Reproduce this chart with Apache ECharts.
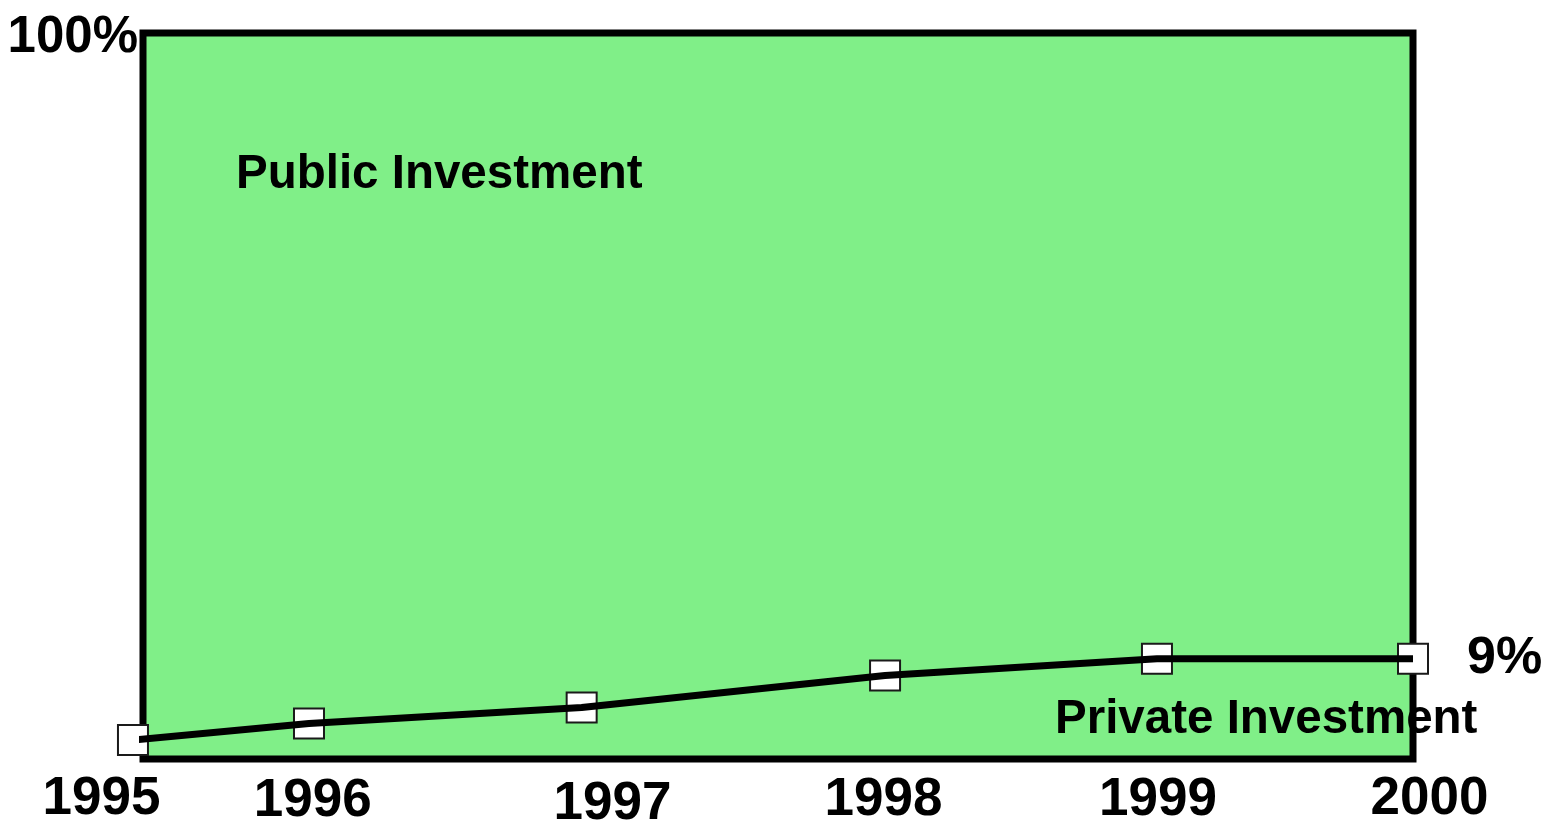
<!DOCTYPE html>
<html>
<head>
<meta charset="utf-8">
<script src="https://cdn.jsdelivr.net/npm/echarts@6/dist/echarts.min.js"></script>
<style>
  html, body { margin: 0; padding: 0; background: #fff; }
  #chart { width: 1549px; height: 828px; }
</style>
</head>
<body>
<div id="chart"></div>
<script>
// ---- data ----
const years = ['1995', '1996', '1997', '1998', '1999', '2000'];
// horizontal position of each point, % of plot width (as drawn)
const pointPos = [-0.79, 13.07, 34.54, 58.43, 79.84, 100];
// private investment share, % of plot height (as drawn)
const privateShare = [2.6, 4.9, 7.1, 11.5, 13.8, 13.8];
// horizontal position of each year label, % of plot width
const yearLabelPos = [-3.27, 13.36, 36.97, 58.31, 79.92, 101.3];
const yearLabelLevel = [-5.5, -5.9, -6.2, -5.75, -5.75, -5.5];
const yTickLabels = { 100: '100%' };
const endLabelText = '9%';
const publicLabel = 'Public Investment';
const privateLabel = 'Private Investment';

const FONT = "'Liberation Sans', Arial, Helvetica, sans-serif";
const chart = echarts.init(document.getElementById('chart'), null, { renderer: 'canvas' });

const markerData = pointPos.map((x, i) => {
  const item = { value: [x, privateShare[i]] };
  if (i === pointPos.length - 1) {
    item.label = {
      show: true, position: 'right', distance: 38, formatter: endLabelText,
      fontSize: 52, fontWeight: 'bold', fontFamily: FONT, color: '#000'
    };
  }
  return item;
});

chart.setOption({
  animation: false,
  grid: {
    left: 143, right: 136, top: 33, bottom: 69,
    show: true, backgroundColor: '#80EF88', borderColor: '#000', borderWidth: 7
  },
  xAxis: {
    type: 'value', min: 0, max: 100,
    axisLine: { show: false }, axisTick: { show: false },
    axisLabel: { show: false }, splitLine: { show: false }
  },
  yAxis: {
    type: 'value', min: 0, max: 100, interval: 100,
    axisLine: { show: false }, axisTick: { show: false }, splitLine: { show: false },
    axisLabel: {
      margin: 5, fontSize: 51, fontWeight: 'bold', fontFamily: FONT, color: '#000',
      verticalAlign: 'top', padding: [-21, 0, 0, 0],
      formatter: v => yTickLabels[v] || ''
    }
  },
  graphic: [
    { type: 'text', left: 236, top: 151, z: 10,
      style: { text: publicLabel, font: "bold 47.5px " + FONT, fill: '#000' } },
    { type: 'text', left: 1055, top: 696, z: 10,
      style: { text: privateLabel, font: "bold 47.5px " + FONT, fill: '#000' } }
  ],
  series: [
    {
      type: 'scatter', name: 'markers', clip: false, z: 3,
      symbol: 'rect', symbolSize: 30,
      itemStyle: { color: '#fff', borderColor: '#1a1a1a', borderWidth: 2, opacity: 1 },
      data: markerData
    },
    {
      type: 'line', name: 'Private Investment', clip: false, z: 4,
      showSymbol: false, symbol: 'none',
      lineStyle: { color: '#000', width: 7 },
      data: pointPos.map((x, i) => [x, privateShare[i]])
    },
    {
      type: 'scatter', name: 'yearLabels', clip: false, z: 5,
      symbolSize: 1, itemStyle: { color: 'rgba(0,0,0,0)', opacity: 1 },
      label: {
        show: true, position: 'inside', fontSize: 53, fontWeight: 'bold',
        fontFamily: FONT, color: '#000',
        formatter: p => years[p.dataIndex]
      },
      data: yearLabelPos.map((x, i) => [x, yearLabelLevel[i]])
    }
  ]
});
</script>
</body>
</html>
